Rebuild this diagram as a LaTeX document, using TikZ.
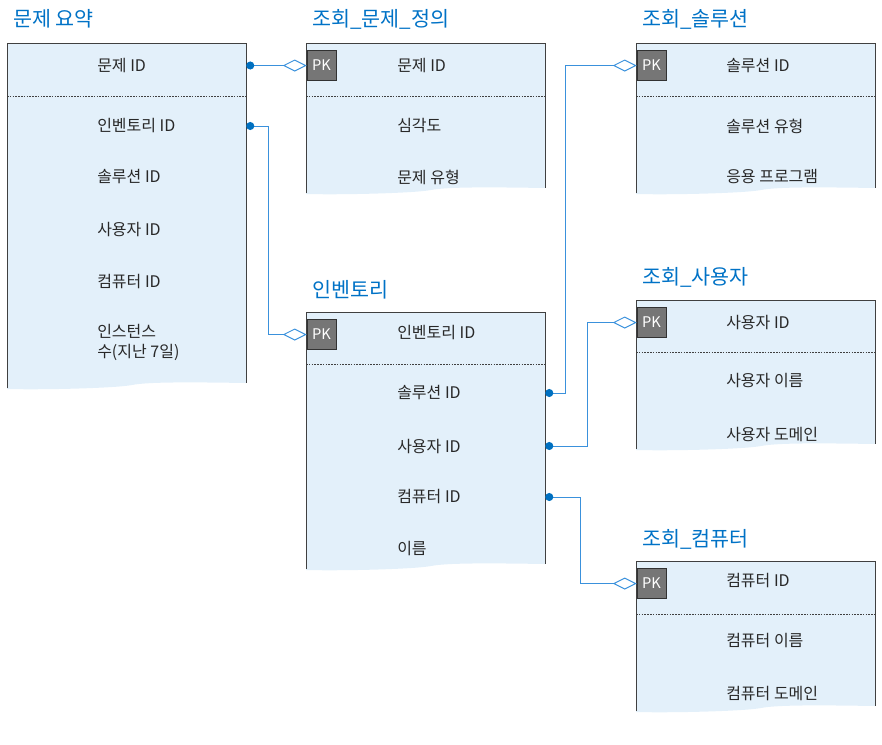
\documentclass[tikz,border=0pt]{standalone}
\usepackage{fontspec}
\setmainfont{Noto Sans CJK KR}
\usetikzlibrary{arrows.meta,fit}

\definecolor{titleblue}{RGB}{0,114,198}
\definecolor{linkblue}{RGB}{58,145,220}
\definecolor{dotblue}{RGB}{0,112,192}
\definecolor{boxfill}{RGB}{227,240,250}
\definecolor{boxline}{RGB}{64,64,64}
\definecolor{fieldtext}{RGB}{40,40,40}
\definecolor{pkfill}{RGB}{118,118,118}
\definecolor{pkline}{RGB}{50,50,50}

\tikzset{
  field/.style={anchor=west, inner sep=0pt, text=fieldtext, font=\fontsize{12}{15}\selectfont},
  title/.style={anchor=west, inner sep=0pt, text=titleblue, font=\fontsize{15.5}{18}\selectfont},
  pk/.style={draw=pkline, fill=pkfill, text=white, minimum width=21.75pt, minimum height=22.5pt, inner sep=0pt, font=\fontsize{11}{13}\selectfont},
  link/.style={draw=linkblue, line width=0.75pt, {Circle[length=6pt,fill=dotblue,color=dotblue]}-{Diamond[open,length=18pt,width=9pt]}},
  sep/.style={draw=boxline, line width=0.75pt, dash pattern=on 1.2pt off 0.9pt},
}

% table body: name, left, top, right, bottom
\newcommand{\ertable}[5]{%
  \fill[boxfill] (#2,#3) -- (#4,#3) -- (#4,#5-5)
    .. controls (#4-60,#5-6) and (#2+140,#5-6) .. (#2+125,#5-3)
    .. controls (#2+110,#5) and (#2+40,#5+2) .. (#2,#5+1) -- cycle;
  \draw[boxline, line width=0.75pt] (#2,#5) -- (#2,#3) -- (#4,#3) -- (#4,#5-5);
  \coordinate (#1-nw) at (#2,#3);
  \coordinate (#1-se) at (#4,#5);
  \node[inner sep=0pt, fit=(#1-nw)(#1-se)] (#1) {};
}

\begin{document}
\begin{tikzpicture}[x=0.75pt, y=-0.75pt]
\useasboundingbox (0,0) rectangle (882,744);

% tables
\ertable{summary}{7}{43}{246}{388}
\ertable{def}{306}{43}{545}{193}
\ertable{sol}{636}{43}{875}{193}
\ertable{inv}{306}{312}{545}{569}
\ertable{user}{636}{300}{875}{449}
\ertable{comp}{636}{561}{875}{711}

% titles
\node[title] (summary-t) at (13,19) {문제 요약};
\node[title] (def-t) at (312,19) {조회\_문제\_정의};
\node[title] (sol-t) at (642,19) {조회\_솔루션};
\node[title] (inv-t) at (312,290) {인벤토리};
\node[title] (user-t) at (642,277) {조회\_사용자};
\node[title] (comp-t) at (642,539) {조회\_컴퓨터};

% key separators
\draw[sep] (7,96) -- (246,96);
\draw[sep] (306,96) -- (545,96);
\draw[sep] (636,96) -- (875,96);
\draw[sep] (306,364) -- (545,364);
\draw[sep] (636,352) -- (875,352);
\draw[sep] (636,614) -- (875,614);

% PK boxes
\node[pk] (def-pk) at (321.5,65.5) {PK};
\node[pk] (sol-pk) at (651.5,65.5) {PK};
\node[pk] (inv-pk) at (321.5,334.5) {PK};
\node[pk] (user-pk) at (651.5,322.5) {PK};
\node[pk] (comp-pk) at (651.5,583.5) {PK};

% fields
\node[field] (sum-pid) at (97,65.5) {문제 ID};
\node[field] (sum-inv) at (97,126) {인벤토리 ID};
\node[field] (sum-sol) at (97,177) {솔루션 ID};
\node[field] (sum-user) at (97,229) {사용자 ID};
\node[field] (sum-comp) at (97,282) {컴퓨터 ID};
\node[field, align=left] (sum-cnt) at (97,342) {인스턴스\\수(지난 7일)};

\node[field] (def-pid) at (397,65.5) {문제 ID};
\node[field] (def-sev) at (397,126) {심각도};
\node[field] (def-type) at (397,177) {문제 유형};

\node[field] (sol-id) at (726,65.5) {솔루션 ID};
\node[field] (sol-type) at (726,126) {솔루션 유형};
\node[field] (sol-app) at (726,177) {응용 프로그램};

\node[field] (inv-id) at (397,333) {인벤토리 ID};
\node[field] (inv-sol) at (397,393) {솔루션 ID};
\node[field] (inv-user) at (397,446) {사용자 ID};
\node[field] (inv-comp) at (397,497) {컴퓨터 ID};
\node[field] (inv-name) at (397,549) {이름};

\node[field] (user-id) at (726,322) {사용자 ID};
\node[field] (user-name) at (726,381) {사용자 이름};
\node[field] (user-dom) at (726,434) {사용자 도메인};

\node[field] (comp-id) at (726,581) {컴퓨터 ID};
\node[field] (comp-name) at (726,641) {컴퓨터 이름};
\node[field] (comp-dom) at (726,694) {컴퓨터 도메인};

% relations
\draw[link] (summary.east |- sum-pid) -- (def-pk.west);
\draw[link] (summary.east |- sum-inv) -- ++(22,0) |- (inv-pk.west);
\draw[link] (inv.east |- inv-sol) -- ++(20,0) |- (sol-pk.west);
\draw[link] (inv.east |- inv-user) -- ++(42,0) |- (user-pk.west);
\draw[link] (inv.east |- inv-comp) -- ++(35,0) |- (comp-pk.west);
\end{tikzpicture}
\end{document}
